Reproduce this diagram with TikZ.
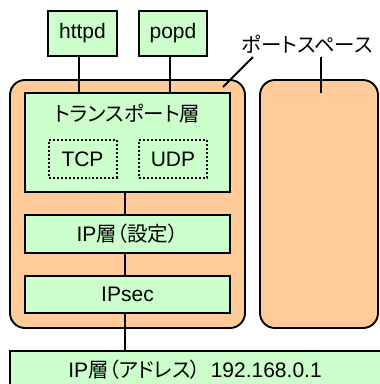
\documentclass[tikz,border=0pt]{standalone}
\usepackage{fontspec}
\setmainfont{Liberation Sans}
\newfontfamily\jpfont[RawFeature=+palt]{Noto Sans CJK JP}
\newcommand\jp[1]{{\jpfont\fontsize{20.5}{24}\selectfont #1}}
\definecolor{portfill}{RGB}{255,204,153}
\definecolor{layerfill}{RGB}{204,255,204}
\begin{document}
\begin{tikzpicture}[x=1pt,y=-1pt,line width=1.9pt,
  font=\fontsize{21}{24}\selectfont,
  layerbox/.style={draw,fill=layerfill,inner sep=0pt},
  protobox/.style={draw,dotted,line width=2pt,inner sep=0pt,minimum width=68pt,minimum height=38pt},
  portbox/.style={draw,fill=portfill,rounded corners=15pt,inner sep=0pt,minimum height=248pt},
  plain/.style={inner sep=0pt}]
\useasboundingbox (0,0) rectangle (380,384);
\clip (0,0) rectangle (380,384);

% port spaces
\node[portbox,minimum width=235pt] (lps) at (127.5,204) {};
\node[portbox,minimum width=118pt] (rps) at (319,204) {};

% applications
\node[layerbox,minimum width=69pt,minimum height=45pt] (httpd) at (82.5,33.5) {httpd};
\node[layerbox,minimum width=68pt,minimum height=45pt] (popd) at (173,33.5) {popd};

% transport layer
\node[layerbox,minimum width=205pt,minimum height=99pt] (trans) at (127.5,142.5) {};
\node[plain] (transtxt) at (127.5,114) {\jp{トランスポート層}};
\node[protobox] (tcp) at (82.5,159) {TCP};
\node[protobox] (udp) at (173,159) {UDP};

% IP layers
\node[layerbox,minimum width=205pt,minimum height=38pt] (ipset) at (127.5,234) {IP\jp{層（設定）}};
\node[layerbox,minimum width=205pt,minimum height=37pt] (ipsec) at (127.5,294.5) {IPsec};
\node[layerbox,minimum width=380pt,minimum height=48pt] (ipaddr) at (200,375) {};
\node[plain] (ipaddrtxt) at (195,370) {IP\jp{層（アドレス）}\hspace{4pt} 192.168.0.1};

% connections
\draw ([xshift=-3.5pt]httpd.south) -- ([xshift=-3.5pt]httpd.south |- trans.north);
\draw ([xshift=-3pt]popd.south) -- ([xshift=-3pt]popd.south |- trans.north);
\draw ([xshift=-2.5pt]trans.south) -- ([xshift=-2.5pt]ipset.north);
\draw ([xshift=-2.5pt]ipset.south) -- ([xshift=-2.5pt]ipsec.north);
\draw ([xshift=-2.5pt]ipsec.south) -- ([xshift=-2.5pt]ipsec.south |- ipaddr.north);

% port space label
\node[plain,inner ysep=3pt,anchor=south] (port) at (307,57) {\jp{ポートスペース}};
\coordinate (lead1) at (223,87);
\coordinate (lead2) at (321,93);
\draw ([xshift=-54pt]port.south) -- (lead1);
\draw ([xshift=14pt]port.south) -- (lead2);
\end{tikzpicture}
\end{document}
